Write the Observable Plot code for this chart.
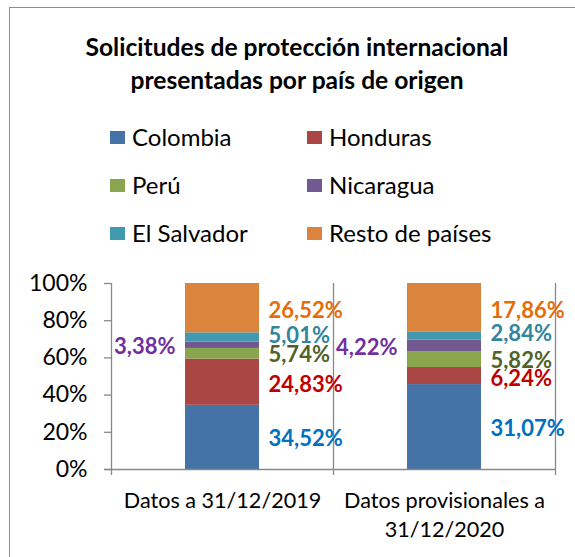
<!DOCTYPE html>
<html>
<head>
<meta charset="utf-8">
<script src="https://cdn.jsdelivr.net/npm/d3@7"></script>
<script src="https://cdn.jsdelivr.net/npm/@observablehq/plot@0.6"></script>
<style>
  html, body { margin: 0; padding: 0; background: #fff; }
  #wrap { position: relative; width: 575px; height: 557px; overflow: hidden; font-family: Lato, "Open Sans", sans-serif; color: #000; }
  #frame { position: absolute; left: 9px; top: 7px; width: 600px; height: 600px; border: 1.5px solid #8d8d8d; box-sizing: border-box; }
  #title { position: absolute; left: 47px; width: 500px; top: 30px; text-align: center; font-weight: 700; font-size: 24.6px; line-height: 33px; white-space: nowrap; }
  .leg { position: absolute; font-size: 24px; line-height: 28px; white-space: nowrap; }
  .sw { position: absolute; width: 15px; height: 13px; }
  #chart { position: absolute; left: 0; top: 260px; }
</style>
</head>
<body>
<div id="wrap">
  <div id="frame"></div>
  <div id="title">Solicitudes de protección internacional<br>presentadas por país de origen</div>
  <div id="legend"></div>
  <div id="chart"></div>
</div>
<script>
// ---- data ----
const periodos = ["Datos a 31/12/2019", "Datos provisionales a 31/12/2020"];
const periodoTicks = ["Datos a 31/12/2019", "Datos provisionales a\n31/12/2020"];
const paises = ["Colombia", "Honduras", "Perú", "Nicaragua", "El Salvador", "Resto de países"];
const valores2019 = [34.52, 24.83, 5.74, 3.38, 5.01, 26.52];
const valores2020 = [31.07, 6.24, 5.82, 4.22, 2.84, 17.86];
const coloresBarra = ["#4572A7", "#AA4643", "#89A54E", "#71588F", "#4198AF", "#DB843D"];
const coloresEtiqueta = ["#0070C0", "#C00000", "#4F6228", "#7030A0", "#31859C", "#E46C0A"];
const yTicks = [0, 0.2, 0.4, 0.6, 0.8, 1];

const series = [valores2019, valores2020];
const data = [];
periodos.forEach((p, i) => paises.forEach((c, j) => data.push({periodo: p, pais: c, valor: series[i][j], j})));

const fmt = v => v.toFixed(2).replace(".", ",") + "%";

// ---- legend (HTML) ----
const legend = document.getElementById("legend");
paises.forEach((c, j) => {
  const col = j % 2, row = Math.floor(j / 2);
  const sx = col === 0 ? 110 : 307;
  const cy = 137 + row * 48;
  const sw = document.createElement("div");
  sw.className = "sw";
  sw.style.left = sx + "px"; sw.style.top = (cy - 6) + "px"; sw.style.background = coloresBarra[j];
  legend.appendChild(sw);
  const t = document.createElement("div");
  t.className = "leg";
  t.textContent = c;
  t.style.left = (sx + 22) + "px"; t.style.top = (cy - 14) + "px";
  legend.appendChild(t);
});

// ---- chart ----
const W = 575, H = 297, mL = 111, mR = 20, mT = 23, mB = 88;
const step = (W - mL - mR) / periodos.length;
const bw = step * (1 - 0.667);
const grey = "#888888";
const colorOf = d => coloresBarra[d.j];
const labelOf = d => coloresEtiqueta[d.j];
// small vertical nudges of the data labels (pixels), per series
const labelNudge = [2, 3, 1, 2, -2, 3];

const labelMarks = paises.map((c, j) => {
  const left = c === "Nicaragua";
  return Plot.text(data, Plot.stackY({offset: "normalize", x: "periodo", y: "valor",
    text: d => d.j === j ? fmt(d.valor) : "",
    fill: labelOf,
    dx: left ? -(bw / 2 + 10) : bw / 2 + 9,
    dy: labelNudge[j],
    textAnchor: left ? "end" : "start", fontSize: 22, fontWeight: 700}));
});

const chart = Plot.plot({
  width: W, height: H,
  marginLeft: mL, marginRight: mR, marginTop: mT, marginBottom: mB,
  style: {fontFamily: "Lato, 'Open Sans', sans-serif", background: "transparent", overflow: "visible"},
  x: {domain: periodos, paddingInner: 0.667, paddingOuter: 0.3335, label: null},
  y: {domain: [0, 1], label: null},
  color: {type: "identity"},
  marks: [
    Plot.barY(data, Plot.stackY({offset: "normalize", x: "periodo", y: "valor", fill: colorOf})),
    // gridlines at band edges
    Plot.ruleX([periodos[0]], {x: d => d, dx: -step / 2, y1: 1, y2: 0, insetBottom: -6, stroke: grey, strokeWidth: 1.3}),
    Plot.ruleX(periodos, {x: d => d, dx: step / 2, y1: 1, y2: 0, insetBottom: -6, stroke: grey, strokeWidth: 1.3}),
    Plot.ruleY([0], {insetLeft: -7, stroke: grey, strokeWidth: 1.3}),
    Plot.axisY({ticks: yTicks, tickFormat: d3.format(".0%"), tickSize: 7, tickPadding: 17, fontSize: 23, stroke: grey, fill: "#000", strokeWidth: 1.3}),
    Plot.axisX({tickSize: 0, tickPadding: 19, fontSize: 21.6, lineHeight: 1.3, fill: "#000",
      tickFormat: d => periodoTicks[periodos.indexOf(d)]}),
    ...labelMarks
  ]
});
document.getElementById("chart").appendChild(chart);
</script>
</body>
</html>
